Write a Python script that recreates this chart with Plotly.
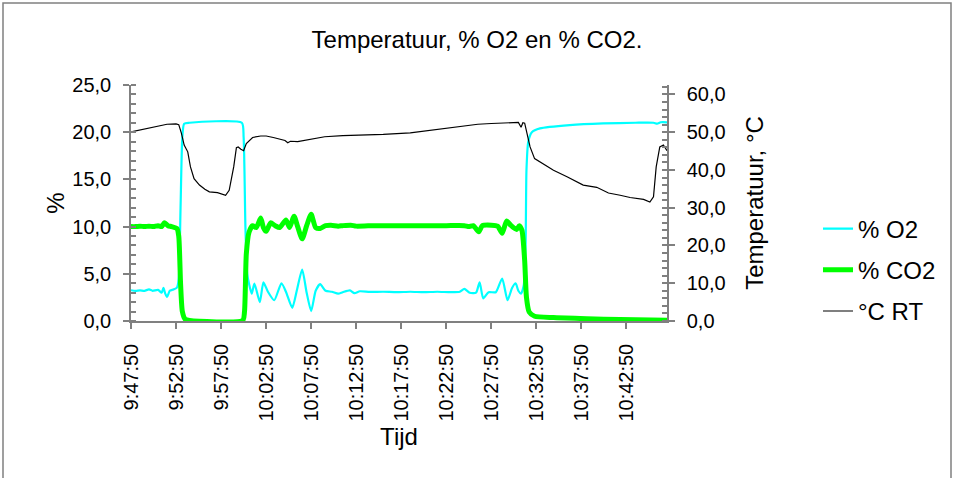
import plotly.graph_objects as go

# ---- data (minutes after 9:47:50) ----
tick_labels = ["9:47:50", "9:52:50", "9:57:50", "10:02:50", "10:07:50", "10:12:50",
               "10:17:50", "10:22:50", "10:27:50", "10:32:50", "10:37:50", "10:42:50"]
tick_minutes = [0, 5, 10, 15, 20, 25, 30, 35, 40, 45, 50, 55]
x_end = 59.5

o2_min = [0.0, 0.5, 1.0, 1.5, 2.0, 2.4, 3.0, 3.4, 3.6, 3.8, 4.0, 4.3, 4.6, 5.1, 5.3, 5.5, 5.7, 5.9, 6.5,
          12.3, 12.5, 12.7, 12.9, 13.1, 13.4, 13.7, 14.3, 14.7, 15.2, 15.9, 16.7, 17.2, 17.9, 18.4,
          19.0, 19.5, 20.0, 20.5, 21.0, 21.6, 22.3, 23.0, 23.5, 24.3, 24.8, 25.4, 26.5, 28.0, 29.5,
          31.0, 32.5, 34.0, 35.5, 36.5, 37.0, 37.6, 38.3, 38.7, 39.1, 39.7, 40.5, 41.2, 41.8, 42.3,
          42.7, 43.0, 43.3, 43.6, 43.8, 43.9, 44.1, 44.5, 45.4, 48.7, 52.4, 56.0, 58.0, 58.4, 58.8, 59.5]
o2_val = [3.26, 3.2, 3.25, 3.2, 3.35, 3.2, 3.3, 3.0, 3.5, 2.9, 2.55, 3.2, 3.3, 3.54, 4.5, 12.0, 19.5, 20.9, 21.0,
          21.0, 19.5, 10.0, 5.0, 3.96, 2.9, 3.96, 2.0, 4.1, 3.1, 2.2, 4.0, 3.1, 1.4, 3.2,
          5.45, 3.0, 1.05, 3.2, 3.9, 3.2, 3.1, 2.9, 3.05, 3.25, 2.95, 3.15, 3.08, 3.1, 3.05,
          3.1, 3.05, 3.1, 3.05, 3.1, 3.4, 3.0, 3.0, 4.1, 2.4, 3.05, 3.05, 4.5, 2.2, 3.5,
          4.0, 3.2, 2.9, 3.8, 8.0, 16.0, 19.0, 20.0, 20.4, 20.75, 20.93, 21.0, 21.0, 20.9, 21.05, 21.05]

co2_min = [0.0, 0.5, 1.0, 1.5, 2.0, 2.5, 3.0, 3.4, 3.7, 4.1, 4.5, 5.1, 5.3, 5.5, 5.7, 6.0, 6.5,
           12.4, 12.6, 12.8, 13.1, 13.5, 13.9, 14.4, 14.7, 15.0, 15.5, 16.0, 16.5, 17.2, 17.6, 18.1,
           18.5, 19.0, 19.5, 20.0, 20.5, 21.0, 21.6, 22.2, 23.0, 23.5, 24.4, 25.0, 27.0, 29.0, 31.0,
           33.0, 35.0, 37.0, 37.5, 38.0, 38.6, 39.0, 40.0, 40.7, 41.2, 41.7, 42.2, 42.8, 43.1, 43.4,
           43.7, 43.9, 44.2, 44.8, 46.9, 50.6, 54.3, 59.5]
co2_val = [10.0, 10.0, 10.05, 10.0, 10.05, 10.0, 10.1, 10.0, 10.4, 10.1, 10.0, 9.8, 9.0, 4.0, 1.0, 0.2, 0.05,
           0.05, 1.0, 7.1, 9.4, 10.1, 9.9, 10.9, 9.9, 9.5, 10.4, 10.1, 9.9, 10.7, 9.9, 11.1,
           10.0, 8.7, 10.1, 11.3, 9.9, 9.8, 10.1, 10.15, 10.05, 10.1, 10.15, 10.05, 10.1, 10.1, 10.1,
           10.1, 10.1, 10.1, 10.0, 10.1, 9.45, 10.1, 10.15, 10.05, 9.3, 10.6, 10.1, 9.7, 10.1, 9.6,
           6.4, 2.5, 0.95, 0.5, 0.36, 0.25, 0.15, 0.07]

rt_min = [0.0, 1.0, 2.0, 3.0, 4.0, 5.0, 5.3, 5.6, 5.9, 6.3, 6.6, 7.0, 7.6, 8.2, 8.7, 9.6, 10.2, 10.5,
          10.9, 11.2, 11.4, 11.7, 11.9, 12.2, 12.5, 12.8, 13.5, 14.4, 15.0, 15.8, 16.5, 17.1, 17.4,
          17.7, 18.5, 19.3, 20.5, 21.5, 23.5, 25.9, 28.0, 31.0, 33.0, 34.5, 36.3, 38.5, 40.0, 42.0,
          43.0, 43.3, 43.5, 43.7, 43.9, 44.3, 44.8, 46.0, 46.9, 48.4, 50.2, 51.7, 53.0, 54.3, 55.4,
          56.9, 57.6, 58.0, 58.3, 58.7, 59.1, 59.5]
rt_val = [50.1, 50.6, 51.3, 51.8, 52.1, 52.2, 52.0, 49.7, 46.6, 44.8, 40.8, 37.7, 36.0, 34.9, 34.2, 34.0, 33.6, 33.3,
          34.6, 38.0, 40.8, 45.9, 46.1, 45.5, 45.1, 47.0, 48.6, 49.0, 49.0, 48.6, 48.1, 47.8, 47.2,
          47.6, 47.5, 47.9, 48.5, 48.8, 49.1, 49.2, 49.4, 49.8, 50.4, 50.9, 51.4, 52.1, 52.3, 52.5,
          52.6, 51.3, 52.5, 52.4, 50.5, 46.1, 43.0, 41.3, 39.9, 38.2, 36.0, 35.4, 33.9, 33.3, 32.7,
          32.2, 31.5, 32.9, 40.8, 46.1, 46.6, 45.1]

FONT = "Liberation Sans, Arial, sans-serif"
GRAY = "#808080"

fig = go.Figure()
fig.add_trace(go.Scatter(x=o2_min, y=o2_val, name="% O2", mode="lines", legendgroup="a",
                         line=dict(color="#00FFFF", width=2.2, shape="spline", smoothing=0.6)))
fig.add_trace(go.Scatter(x=co2_min, y=co2_val, name="% CO2", mode="lines", legendgroup="b",
                         line=dict(color="#00FF00", width=5, shape="spline", smoothing=0.6)))
fig.add_trace(go.Scatter(x=rt_min, y=rt_val, name="°C RT", mode="lines", yaxis="y2", legendgroup="c",
                         line=dict(color="#000000", width=1.2)))

fig.update_layout(
    width=954, height=478,
    margin=dict(l=131, r=287, t=85, b=157, autoexpand=False),
    paper_bgcolor="white", plot_bgcolor="white",
    separators=",.",
    font=dict(family=FONT, size=20, color="black"),
    showlegend=True,
    title=dict(text="Temperatuur, % O2 en % CO2.", x=0.5, xref="container", y=1 - 40 / 478,
               yref="container", xanchor="center", yanchor="middle",
               font=dict(family=FONT, size=24, color="black")),
    xaxis=dict(range=[0, x_end], tickmode="array", tickvals=tick_minutes, ticktext=tick_labels,
               tickangle=-90, showgrid=False, zeroline=False, showline=True, linecolor=GRAY,
               linewidth=1.5, ticks="outside", ticklen=6, tickcolor=GRAY, tickwidth=1.5,
               tickfont=dict(size=20), ticklabelstandoff=7, automargin=False,
               title=dict(text="Tijd", font=dict(size=24), standoff=8)),
    yaxis=dict(range=[0, 25], dtick=5, tickformat=".1f", showgrid=False, zeroline=False,
               showline=True, linecolor=GRAY, linewidth=1.5, ticks="outside", ticklen=6,
               tickcolor=GRAY, tickwidth=1.5, tickfont=dict(size=20), ticklabelstandoff=8,
               automargin=False,
               minor=dict(dtick=1, ticks="inside", ticklen=5, tickcolor=GRAY, tickwidth=1.5),
               title=dict(text="%", font=dict(size=24), standoff=1)),
    yaxis2=dict(range=[0, 62.5], tick0=0, dtick=10, tickformat=".1f", overlaying="y", side="right",
                showgrid=False, zeroline=False, showline=True, linecolor=GRAY, linewidth=1.5,
                ticks="outside", ticklen=6, tickcolor=GRAY, tickwidth=1.5, tickfont=dict(size=20),
                ticklabelstandoff=8, automargin=False,
                minor=dict(dtick=2, ticks="inside", ticklen=5, tickcolor=GRAY, tickwidth=1.5),
                title=dict(text="Temperatuur, °C", font=dict(size=24), standoff=22)),
    legend=dict(x=(818 - 131) / 536, xanchor="left", y=(321 - 270) / 236, yanchor="middle",
                font=dict(size=24), bgcolor="rgba(0,0,0,0)", tracegroupgap=7),
    shapes=[dict(type="rect", xref="paper", yref="paper",
                 x0=(3 - 131) / 536, x1=(951 - 131) / 536,
                 y0=(321 - 495) / 236, y1=(321 - 3) / 236,
                 line=dict(color=GRAY, width=1.5), fillcolor="rgba(0,0,0,0)", layer="below")],
)

fig.write_html("out.html", config={"displayModeBar": False},
               post_script="document.body.style.margin='0';")
